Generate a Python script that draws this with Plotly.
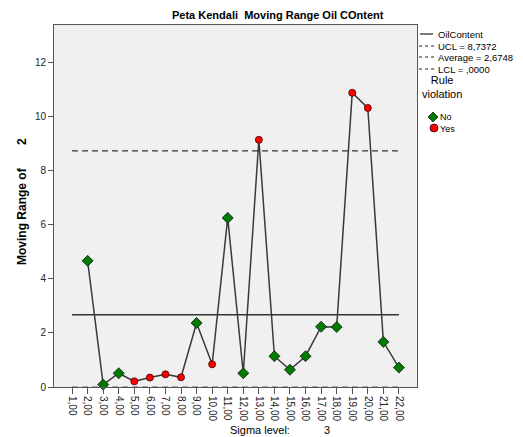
import plotly.graph_objects as go

# ---- data ----
subgroups = list(range(1, 23))
tick_labels = [f"{i},00" for i in subgroups]
moving_range = [None, 4.67, 0.09, 0.51, 0.21, 0.35, 0.47, 0.36, 2.37, 0.84, 6.26,
                0.51, 9.15, 1.14, 0.64, 1.14, 2.23, 2.22, 10.89, 10.33, 1.67, 0.72]
violation = [None, "No", "No", "No", "Yes", "Yes", "Yes", "Yes", "No", "Yes", "No",
             "No", "Yes", "No", "No", "No", "No", "No", "Yes", "Yes", "No", "No"]
ucl = 8.7372
average = 2.6748
lcl = 0.0

FONT = "Arial, Liberation Sans, sans-serif"

fig = go.Figure()

# control limits
fig.add_trace(go.Scatter(x=[subgroups[0], subgroups[-1]], y=[ucl, ucl], mode="lines",
                         line=dict(color="#333333", width=1.3, dash="6px,4px"),
                         hoverinfo="skip", showlegend=False))
fig.add_trace(go.Scatter(x=[subgroups[0], subgroups[-1]], y=[average, average], mode="lines",
                         line=dict(color="#333333", width=1.3),
                         hoverinfo="skip", showlegend=False))
fig.add_trace(go.Scatter(x=[subgroups[0], subgroups[-1]], y=[lcl, lcl], mode="lines",
                         line=dict(color="#555555", width=1, dash="6px,4px"),
                         hoverinfo="skip", showlegend=False))

# series line
fig.add_trace(go.Scatter(x=subgroups, y=moving_range, mode="lines",
                         line=dict(color="#3a3a3a", width=1.5),
                         connectgaps=False, showlegend=False))

# markers
xn = [x for x, v in zip(subgroups, violation) if v == "No"]
yn = [y for y, v in zip(moving_range, violation) if v == "No"]
xy = [x for x, v in zip(subgroups, violation) if v == "Yes"]
yy = [y for y, v in zip(moving_range, violation) if v == "Yes"]
fig.add_trace(go.Scatter(x=xn, y=yn, mode="markers", showlegend=False,
                         marker=dict(symbol="diamond", size=8.5, color="#007a00",
                                     line=dict(color="#1a1a1a", width=0.8)),
                         cliponaxis=False))
fig.add_trace(go.Scatter(x=xy, y=yy, mode="markers", showlegend=False,
                         marker=dict(symbol="circle", size=7, color="#ff0000",
                                     line=dict(color="#3a0000", width=0.8)),
                         cliponaxis=False))

L, R, T, B = 54, 417, 25, 387
W = R - L
H = B - T


def px(xp):
    return (xp - L) / W


def py(yp):
    return (B - yp) / H


annotations = []
shapes = []

# title
annotations.append(dict(text="<b>Peta Kendali  Moving Range Oil COntent</b>", x=px(278), y=py(15),
                        xref="paper", yref="paper", showarrow=False, xanchor="center", yanchor="middle",
                        font=dict(size=11, color="#000000", family=FONT)))
# y axis title
annotations.append(dict(text="<b>Moving Range of" + "\u00a0" * 7 + "2</b>", x=px(22), y=py(202),
                        xref="paper", yref="paper", showarrow=False, textangle=-90,
                        xanchor="center", yanchor="middle",
                        font=dict(size=12, color="#000000", family=FONT)))
# sigma level
annotations.append(dict(text="Sigma level:", x=px(228), y=py(430), xref="paper", yref="paper",
                        showarrow=False, xanchor="left", yanchor="middle",
                        font=dict(size=11, color="#000000", family=FONT)))
annotations.append(dict(text="3", x=px(327), y=py(430), xref="paper", yref="paper",
                        showarrow=False, xanchor="center", yanchor="middle",
                        font=dict(size=11, color="#000000", family=FONT)))

# custom legend
leg_items = [("OilContent", 34, "solid"), ("UCL = 8,7372", 46, "dash"),
             ("Average = 2,6748", 57, "dash"), ("LCL = ,0000", 69, "dash")]
for name, yp, style in leg_items:
    if style == "solid":
        shapes.append(dict(type="line", xref="paper", yref="paper", x0=px(420), x1=px(433),
                           y0=py(yp), y1=py(yp), line=dict(color="#222222", width=1.2)))
    else:
        shapes.append(dict(type="line", xref="paper", yref="paper", x0=px(419), x1=px(434),
                           y0=py(yp), y1=py(yp), line=dict(color="#222222", width=1.2, dash="3px,3px")))
    annotations.append(dict(text=name, x=px(436), y=py(yp), xref="paper", yref="paper",
                            showarrow=False, xanchor="left", yanchor="middle",
                            font=dict(size=9.5, color="#000000", family=FONT)))

annotations.append(dict(text="Rule<br>violation", x=px(442), y=py(87), xref="paper", yref="paper",
                        showarrow=False, xanchor="center", yanchor="middle", align="center",
                        font=dict(size=11, color="#000000", family=FONT)))
# legend symbols
cx, cy = 433, 117
shapes.append(dict(type="path", xref="paper", yref="paper",
                   path=f"M {px(cx-5)} {py(cy)} L {px(cx)} {py(cy-5)} L {px(cx+5)} {py(cy)} L {px(cx)} {py(cy+5)} Z",
                   fillcolor="#007a00", line=dict(color="#1a1a1a", width=0.8)))
cx, cy = 434, 128
shapes.append(dict(type="circle", xref="paper", yref="paper",
                   x0=px(cx-4), x1=px(cx+4), y0=py(cy+4), y1=py(cy-4),
                   fillcolor="#ff0000", line=dict(color="#3a0000", width=0.8)))
annotations.append(dict(text="No<br>Yes", x=px(438), y=py(122.5), xref="paper", yref="paper",
                        showarrow=False, xanchor="left", yanchor="middle", align="left",
                        font=dict(size=9, color="#000000", family=FONT)))

fig.update_layout(
    width=523, height=437,
    margin=dict(l=L, r=523 - R, t=T, b=437 - B),
    paper_bgcolor="#ffffff", plot_bgcolor="#f0f0f0",
    font=dict(family=FONT, size=10, color="#333333"),
    showlegend=False,
    annotations=annotations, shapes=shapes,
)
fig.update_xaxes(range=[-0.16, 23.16], tickvals=subgroups, ticktext=tick_labels, tickangle=90,
                 showgrid=False, zeroline=False, showline=True, linecolor="#555555", linewidth=1,
                 mirror=True, ticks="outside", ticklen=6, tickcolor="#555555",
                 tickfont=dict(size=10, color="#222222", family=FONT))
fig.update_yaxes(range=[0, 13.4], tickvals=[0, 2, 4, 6, 8, 10, 12], showgrid=False, zeroline=False,
                 showline=True, linecolor="#555555", linewidth=1, mirror=True,
                 ticks="outside", ticklen=5, tickcolor="#555555",
                 tickfont=dict(size=10, color="#222222", family=FONT))

fig.write_html("out.html", post_script="document.body.style.margin='0';",
               config={"displayModeBar": False})
